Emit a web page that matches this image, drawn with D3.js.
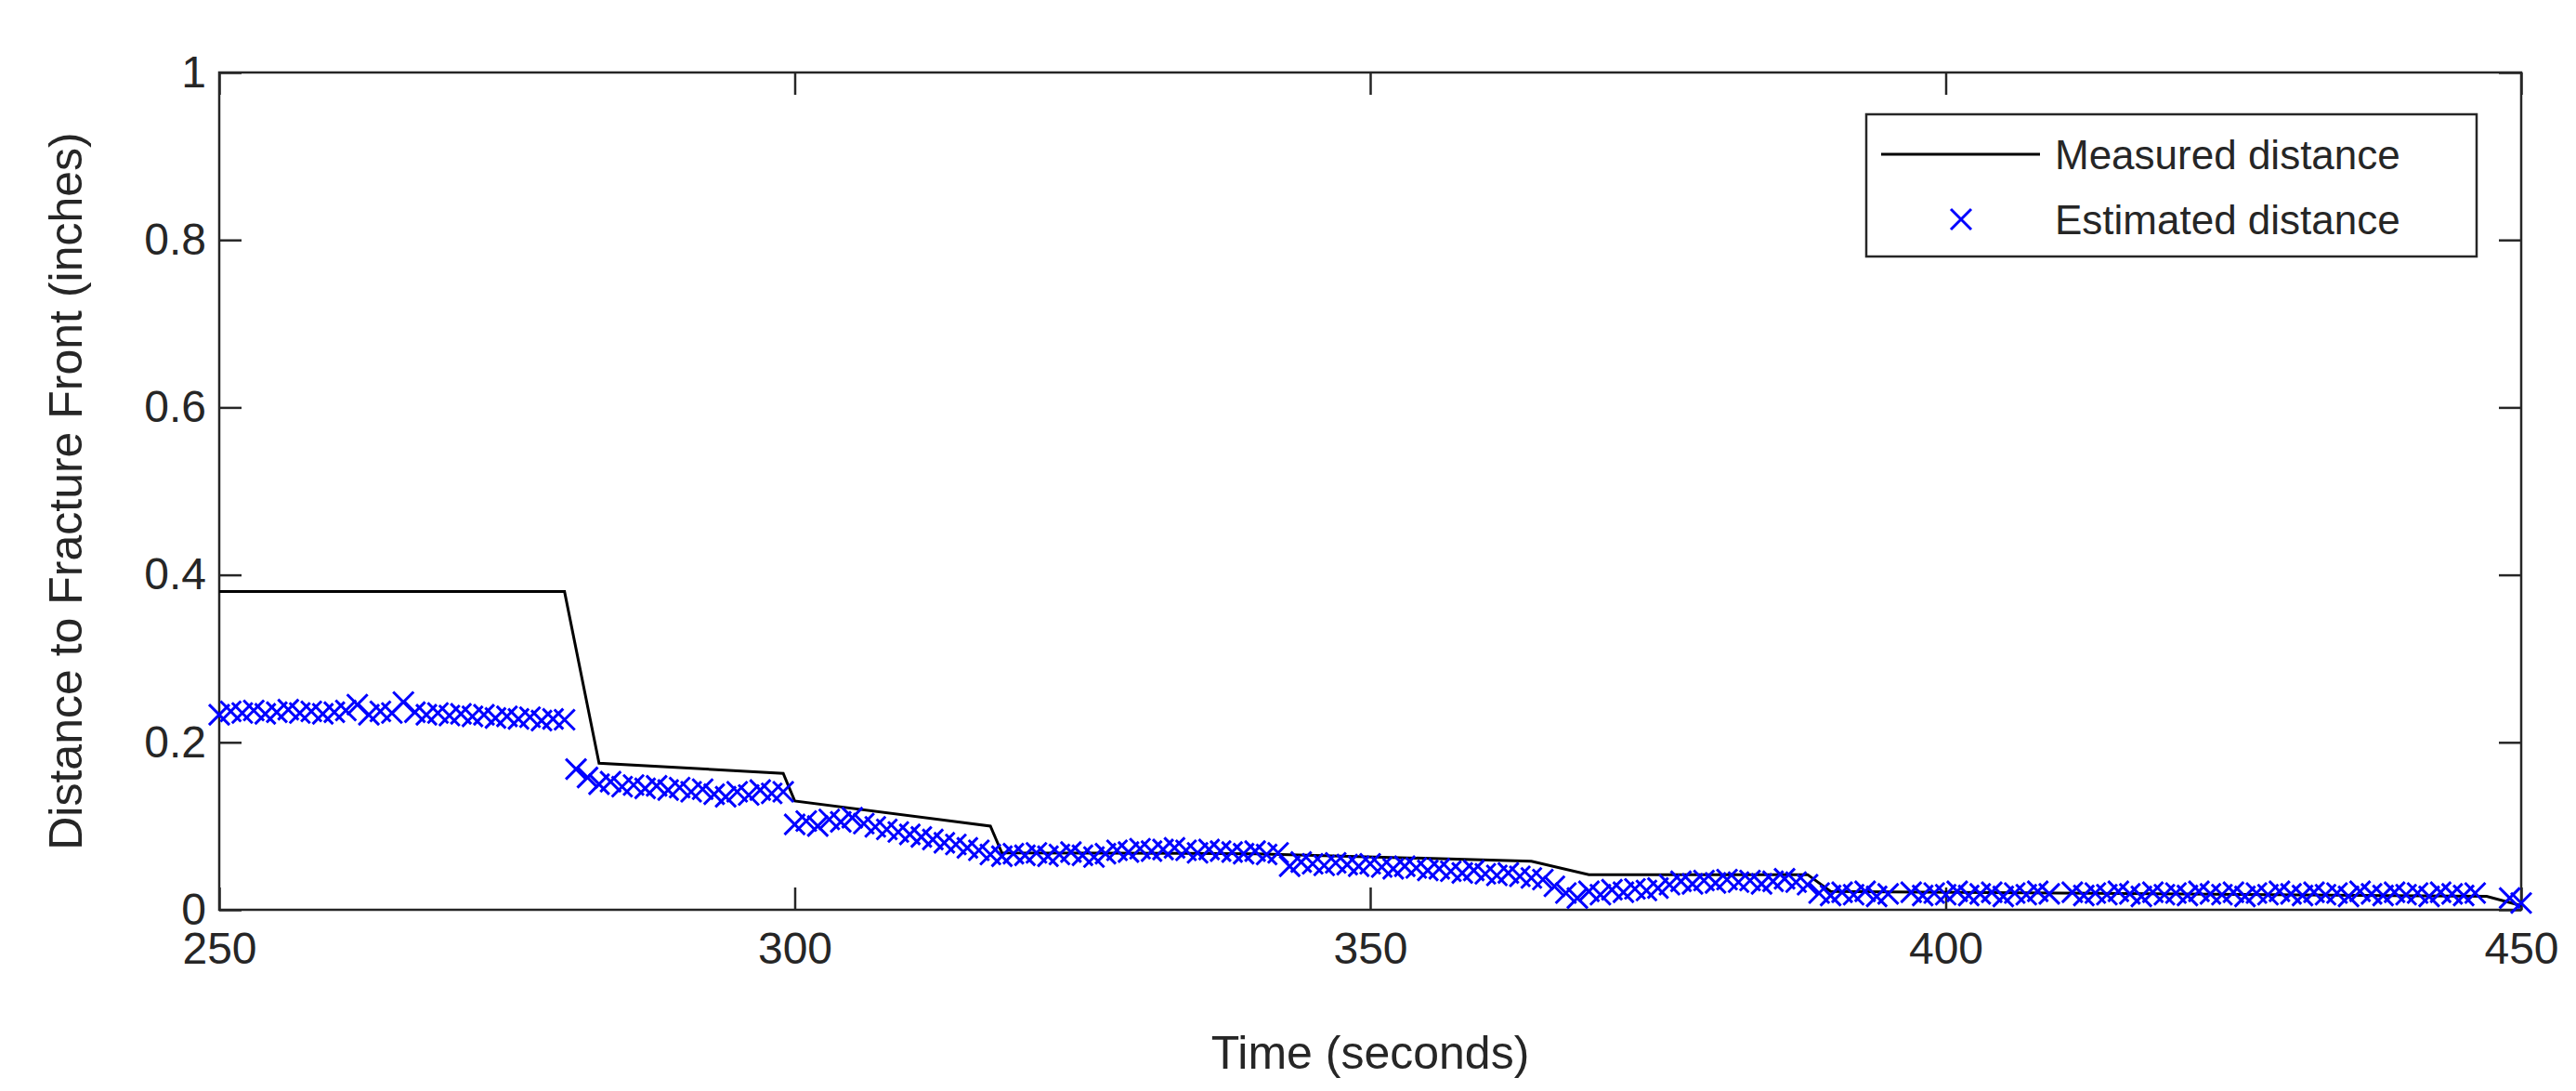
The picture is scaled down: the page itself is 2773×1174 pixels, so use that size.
<!doctype html>
<html>
<head>
  <meta charset="utf8"/>
  <style>
    body { margin: 0; background: #fff; }
    text { font-family: 'Liberation Sans', Arial, sans-serif; fill: #262626; }
  </style>
</head>
<body>
  <svg width='2773' height='1174'></svg>
  <script src="https://d3js.org/d3.v7.min.js"></script>
  <script>

    // measured distance (piecewise linear)
    var measuredTime = [250, 280, 283, 299, 300, 317, 318, 340, 364, 369, 388, 390, 447, 450];
    var measuredDist = [0.38, 0.38, 0.175, 0.163, 0.13, 0.10, 0.068, 0.067, 0.058, 0.042, 0.042, 0.022, 0.016, 0.005];

    // estimated distance, one sample per second starting at 250 s (null = no sample)
    var estStart = 250;
    var estimated = [
      0.233, 0.237, 0.235, 0.238, 0.234, 0.236, 0.239, 0.235, 0.237, 0.234,   // 250
      0.236, 0.238, 0.245, 0.233, 0.237, 0.235, 0.248, 0.236, 0.233, 0.235,   // 260
      0.232, 0.234, 0.231, 0.233, 0.229, 0.231, 0.228, 0.230, 0.226, 0.228,   // 270
      0.227, 0.168, 0.158, 0.150, 0.153, 0.147, 0.149, 0.145, 0.148, 0.143,   // 280
      0.146, 0.141, 0.144, 0.138, 0.135, 0.141, 0.137, 0.143, 0.139, 0.141,   // 290
      0.102, 0.106, 0.100, 0.108, 0.105, 0.110, 0.103, 0.099, 0.096, 0.093,   // 300
      0.090, 0.087, 0.084, 0.080, 0.078, 0.074, 0.071, 0.066, 0.064, 0.067,   // 310
      0.065, 0.068, 0.064, 0.066, 0.069, 0.065, 0.063, 0.067, 0.071, 0.069,   // 320
      0.073, 0.070, 0.072, 0.074, 0.071, 0.068, 0.072, 0.070, 0.069, 0.067,   // 330
      0.070, 0.066, 0.068, 0.052, 0.057, 0.055, 0.053, 0.056, 0.054, 0.052,   // 340
      0.055, 0.051, 0.049, 0.052, 0.050, 0.047, 0.049, 0.046, 0.044, 0.047,   // 350
      0.043, 0.041, 0.044, 0.040, 0.038, 0.036, 0.028, 0.020, 0.014, 0.022,   // 360
      0.018, 0.024, 0.021, 0.025, 0.023, 0.026, 0.030, 0.034, 0.031, 0.035,   // 370
      0.032, 0.036, 0.033, 0.035, 0.031, 0.034, 0.037, 0.033, 0.030, 0.020,   // 380
      0.017, 0.021, 0.018, 0.022, 0.016, 0.019, null, 0.021, 0.017, 0.020,    // 390
      0.018, 0.022, 0.017, 0.019, 0.021, 0.016, 0.020, 0.018, 0.022, 0.019,   // 400
      null, 0.021, 0.017, 0.020, 0.018, 0.022, 0.019, 0.016, 0.021, 0.018,    // 410
      0.020, 0.017, 0.022, 0.019, 0.018, 0.021, 0.016, 0.020, 0.018, 0.022,   // 420
      0.019, 0.017, 0.021, 0.018, 0.020, 0.016, 0.022, 0.019, 0.017, 0.021,   // 430
      0.018, 0.020, 0.016, 0.021, 0.019, 0.017, 0.020, null, null, 0.014,     // 440
      0.008                                                                    // 450
    ];

    var xTicks = [250, 300, 350, 400, 450];
    var yTicks = [0, 0.2, 0.4, 0.6, 0.8, 1];

    var svg = d3.select('svg'),
        margin = {top: 78, right: 59, bottom: 195, left: 236},
        width = +svg.attr('width') - margin.left - margin.right,
        height = +svg.attr('height') - margin.top - margin.bottom,
        g = svg.append('g').attr('transform',
                                 'translate(' + margin.left + ',' + margin.top + ')');

    var x = d3.scaleLinear().domain([250, 450]).range([0, width]);
    var y = d3.scaleLinear().domain([0, 1]).range([height, 0]);

    var tickLen = 24;
    function styleAxis(sel) {
      sel.select('.domain').remove();
      sel.selectAll('line').attr('stroke', '#262626').attr('stroke-width', 2.5);
      sel.selectAll('text').style('font-size', '48px').attr('fill', '#262626');
    }

    g.append('g')
      .attr('transform', 'translate(0,' + height + ')')
      .call(d3.axisBottom(x).tickValues(xTicks).tickSize(-tickLen).tickPadding(24)
        .tickFormat(d3.format('d')))
      .call(styleAxis);
    g.append('g')
      .call(d3.axisTop(x).tickValues(xTicks).tickSize(-tickLen).tickFormat(''))
      .call(styleAxis);
    g.append('g')
      .call(d3.axisLeft(y).tickValues(yTicks).tickSize(-tickLen).tickPadding(14)
        .tickFormat(function(d) { return d === 0 || d === 1 ? d : d3.format('.1f')(d); }))
      .call(styleAxis);
    g.append('g')
      .attr('transform', 'translate(' + width + ',0)')
      .call(d3.axisRight(y).tickValues(yTicks).tickSize(-tickLen).tickFormat(''))
      .call(styleAxis);

    g.append('rect')
      .attr('width', width).attr('height', height)
      .attr('fill', 'none').attr('stroke', '#262626').attr('stroke-width', 2.5);

    // measured line
    var line = d3.line()
      .x(function(d) { return x(d[0]); })
      .y(function(d) { return y(d[1]); });
    g.append('path')
      .datum(d3.zip(measuredTime, measuredDist))
      .attr('d', line)
      .attr('fill', 'none')
      .attr('stroke', '#000')
      .attr('stroke-width', 3);

    // estimated markers
    var pts = estimated.map(function(v, i) { return [estStart + i, v]; })
                       .filter(function(d) { return d[1] !== null; });
    var ms = 11;
    var cross = 'M' + (-ms) + ',' + (-ms) + 'L' + ms + ',' + ms +
                'M' + (-ms) + ',' + ms + 'L' + ms + ',' + (-ms);
    g.selectAll('.est')
      .data(pts)
      .enter().append('path')
        .attr('class', 'est')
        .attr('transform', function(d) { return 'translate(' + x(d[0]) + ',' + y(d[1]) + ')'; })
        .attr('d', cross)
        .attr('stroke', '#0000ff')
        .attr('stroke-width', 3)
        .attr('fill', 'none');

    // axis titles
    svg.append('text')
      .attr('x', margin.left + width / 2)
      .attr('y', 1150)
      .attr('text-anchor', 'middle')
      .style('font-size', '50px')
      .text('Time (seconds)');
    svg.append('text')
      .attr('transform', 'translate(88,' + (margin.top + height / 2) + ') rotate(-90)')
      .attr('text-anchor', 'middle')
      .style('font-size', '50px')
      .text('Distance to Fracture Front (inches)');

    // legend
    var lg = svg.append('g').attr('transform', 'translate(2009,123)');
    lg.append('rect').attr('width', 657).attr('height', 153)
      .attr('fill', '#fff').attr('stroke', '#262626').attr('stroke-width', 2.5);
    lg.append('line').attr('x1', 16).attr('x2', 187).attr('y1', 43).attr('y2', 43)
      .attr('stroke', '#000').attr('stroke-width', 3);
    lg.append('path').attr('transform', 'translate(102,113)').attr('d', cross)
      .attr('stroke', '#0000ff').attr('stroke-width', 3);
    lg.append('text').attr('x', 203).attr('y', 59).style('font-size', '44px').text('Measured distance');
    lg.append('text').attr('x', 203).attr('y', 129).style('font-size', '44px').text('Estimated distance');

  </script>
</body>
</html>
